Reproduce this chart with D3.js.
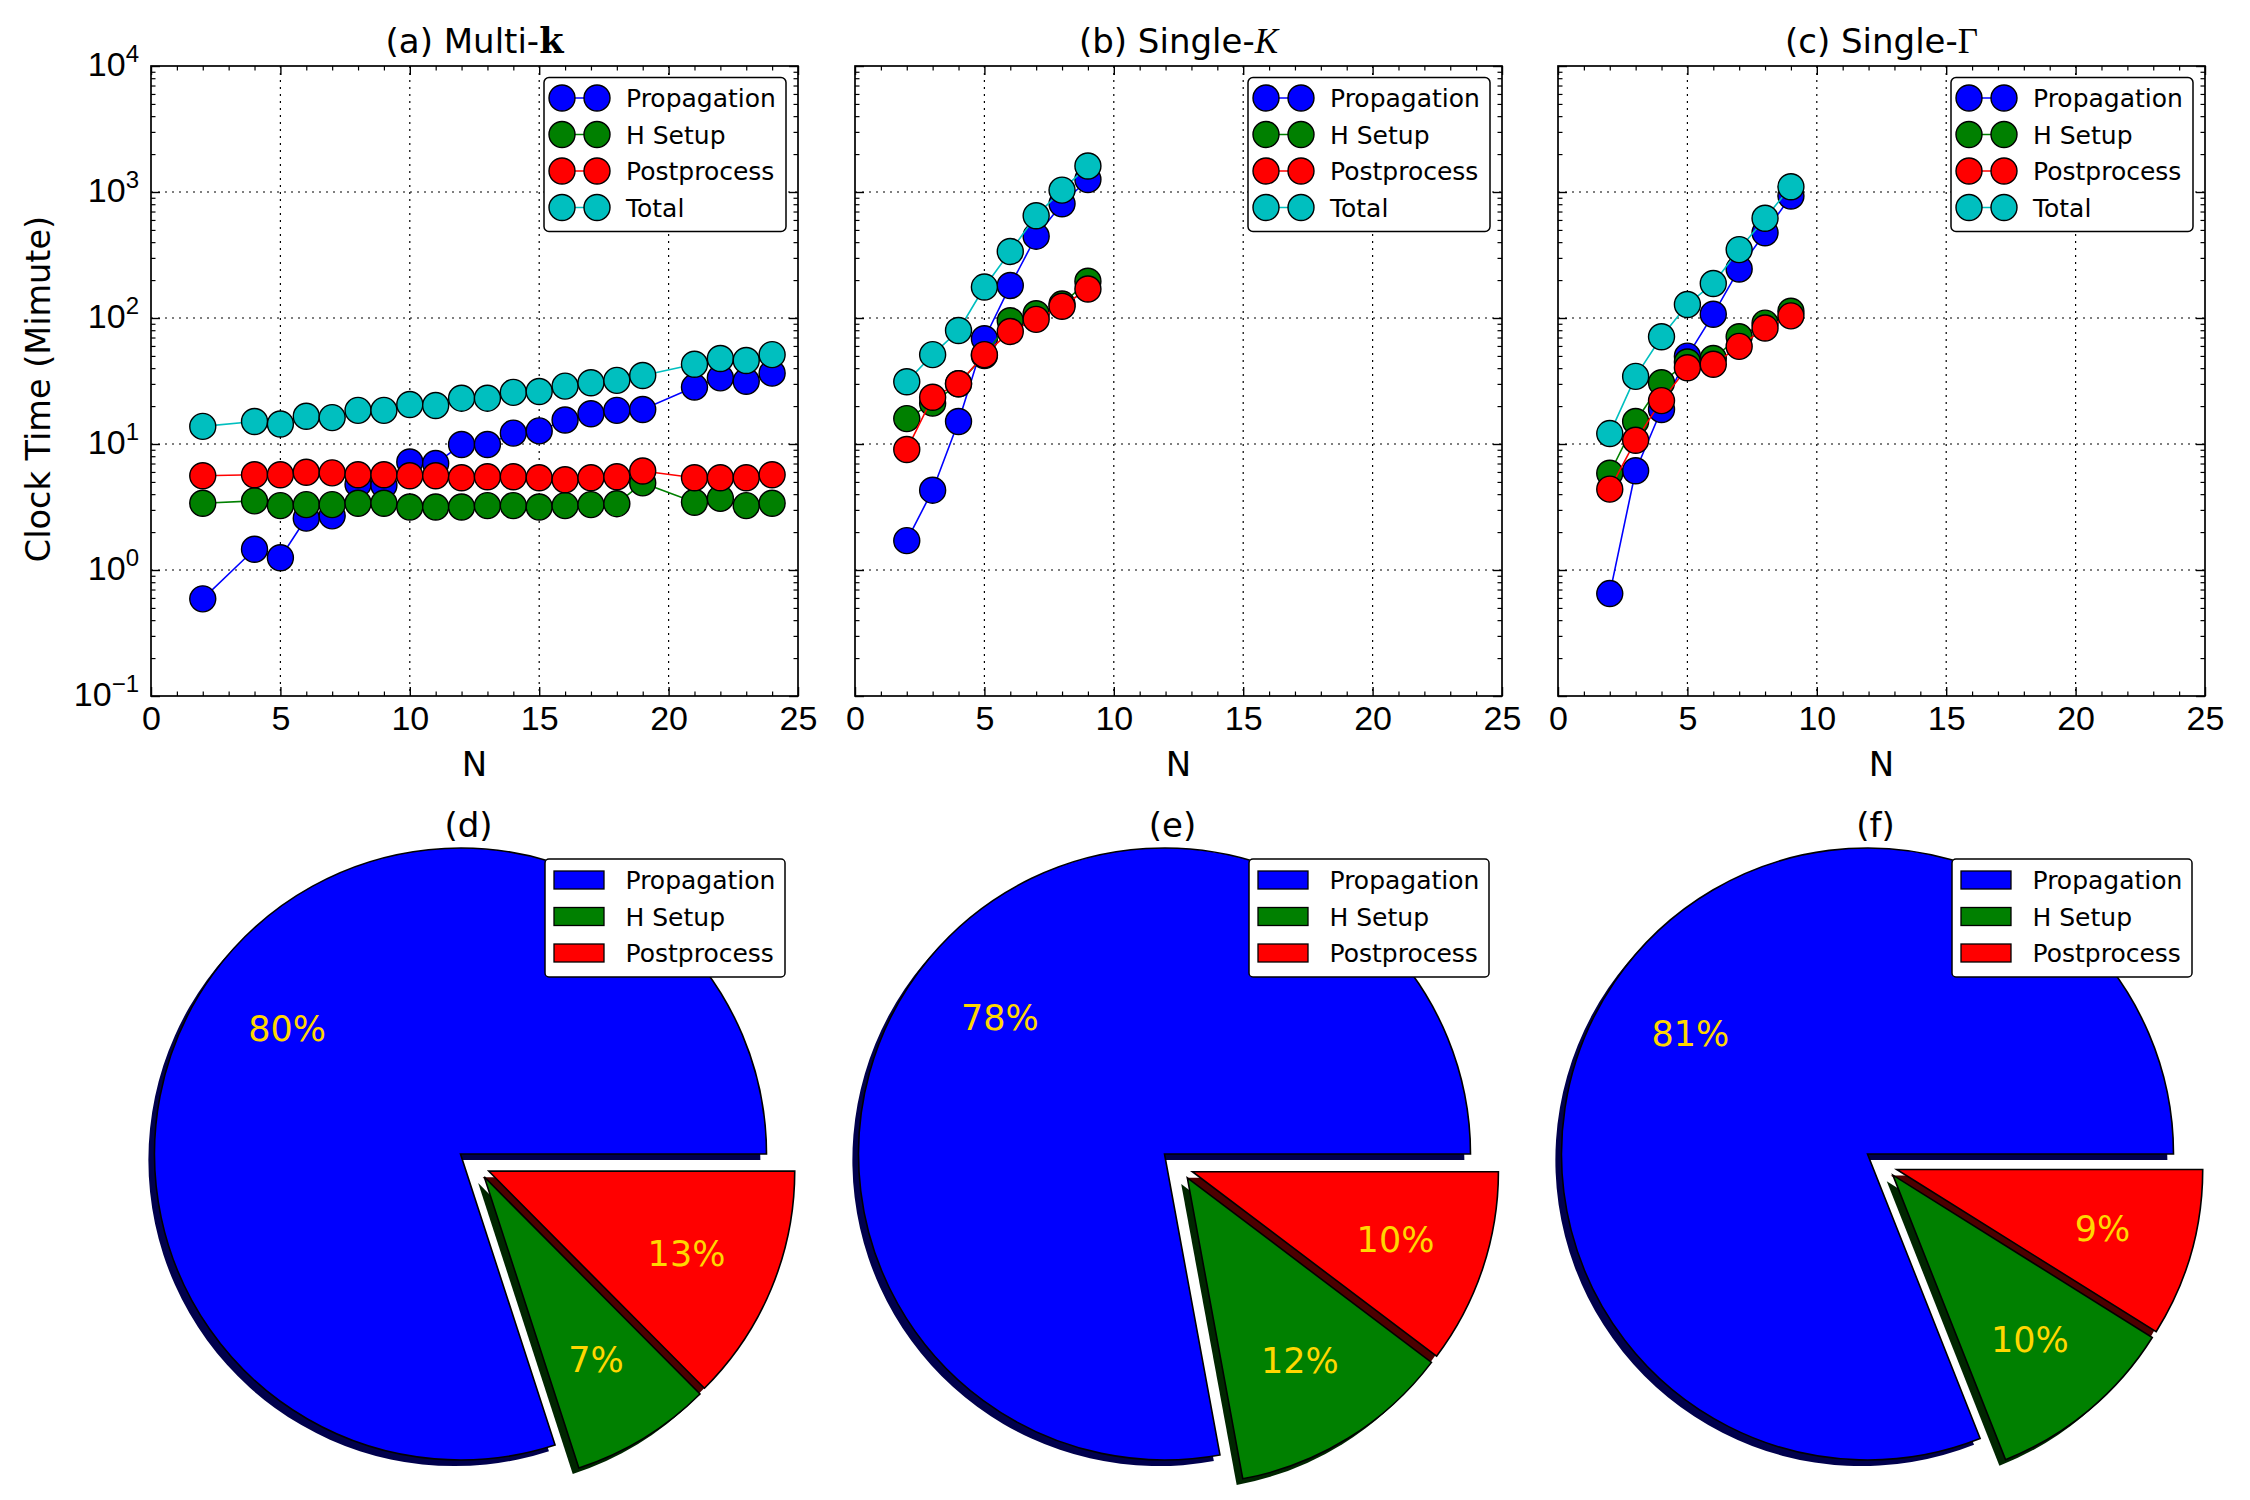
<!DOCTYPE html>
<html>
<head>
<meta charset="utf-8">
<script src="https://cdn.jsdelivr.net/npm/d3@7"></script>
<style>
  body { margin: 0; background: #fff; }
  svg { display: block; font-family: "DejaVu Sans", sans-serif; }
</style>
</head>
<body>
<svg id="chart" width="2250" height="1500"></svg>
<script>
// data
const seriesNames = ["Propagation", "H Setup", "Postprocess", "Total"];
const pieNames = ["Propagation", "H Setup", "Postprocess"];

const nMulti = [2, 4, 5, 6, 7, 8, 9, 10, 11, 12, 13, 14, 15, 16, 17, 18, 19, 21, 22, 23, 24];
const propMulti = [0.59, 1.46, 1.25, 2.58, 2.69, 4.8, 4.7, 7.2, 7.0, 9.9, 9.9, 12.2, 12.7, 15.5, 17.4, 18.5, 18.8, 28.3, 33.5, 31.5, 36.5];
const hsetMulti = [3.39, 3.54, 3.24, 3.3, 3.3, 3.39, 3.39, 3.16, 3.16, 3.16, 3.24, 3.24, 3.16, 3.24, 3.3, 3.36, 4.91, 3.45, 3.7, 3.24, 3.39];
const postMulti = [5.6, 5.7, 5.7, 5.97, 5.9, 5.7, 5.7, 5.6, 5.6, 5.4, 5.5, 5.5, 5.4, 5.2, 5.4, 5.5, 6.1, 5.4, 5.4, 5.4, 5.7];
const totalMulti = [13.8, 15.1, 14.4, 16.6, 16.2, 18.5, 18.5, 20.6, 20.2, 23.1, 23.1, 25.7, 26.1, 28.8, 30.6, 32.0, 35.0, 42.9, 47.7, 46.0, 51.2];

const nSingle = [2, 3, 4, 5, 6, 7, 8, 9];
const propSingleK = [1.71, 4.3, 15.1, 68.5, 181, 446, 807, 1257];
const hsetSingleK = [15.9, 21.1, 30.1, 50.3, 95, 108, 129, 196];
const postSingleK = [9.04, 23.5, 30.1, 51.2, 78.2, 97.6, 124, 170];
const totalSingleK = [31.2, 51.2, 79.6, 176, 337, 648, 1035, 1610];

const propSingleG = [0.65, 6.13, 18.8, 49.8, 107, 245, 475, 930];
const hsetSingleG = [5.86, 15.1, 30.6, 44.8, 47.7, 71, 91, 113];
const postSingleG = [4.38, 10.7, 22.1, 40.3, 42.9, 59.5, 83.2, 104];
const totalSingleG = [12.1, 34.4, 71, 128, 188, 349, 619, 1100];

// percent shares for the pies
const pieMulti = [80.0, 7.45, 12.55];
const pieSingleK = [77.9, 11.8, 10.3];
const pieSingleG = [81.0, 10.1, 8.9];

const xTicks = [0, 5, 10, 15, 20, 25];
const yTicks = [0.1, 1, 10, 100, 1000, 10000];

const colors = ["#0000ff", "#008000", "#ff0000", "#00bfbf"];
const shadowColors = ["#00004d", "#002600", "#4d0000"];

const svg = d3.select("#chart");
const W = 647, TOP = 66, BOTTOM = 696;
const panelLefts = [151, 855, 1558];

const linePanels = [
  { title: "(a) Multi-", sym: "k", family: "DejaVu Serif", weight: "bold", fstyle: "normal",
    n: nMulti, series: [propMulti, hsetMulti, postMulti, totalMulti], yLabels: true },
  { title: "(b) Single-", sym: "K", family: "Liberation Serif", weight: "normal", fstyle: "italic",
    n: nSingle, series: [propSingleK, hsetSingleK, postSingleK, totalSingleK], yLabels: false },
  { title: "(c) Single-", sym: "Γ", family: "Liberation Serif", weight: "normal", fstyle: "normal",
    n: nSingle, series: [propSingleG, hsetSingleG, postSingleG, totalSingleG], yLabels: false },
];
const piePanels = [
  { title: "(d)", values: pieMulti },
  { title: "(e)", values: pieSingleK },
  { title: "(f)", values: pieSingleG },
];

function styleTicks(sel, w) {
  sel.select(".domain").remove();
  sel.selectAll(".tick line").attr("stroke", "#000").attr("stroke-width", w);
}

// 01 line panels
linePanels.forEach(function (p, pi) {
  const left = panelLefts[pi];
  const x = d3.scaleLinear().domain([0, 25]).range([left, left + W]);
  const y = d3.scaleLog().domain([0.1, 1e4]).range([BOTTOM, TOP]);
  const g = svg.append("g");

  // dotted grid
  g.append("g").selectAll("line").data(xTicks.slice(1, -1)).join("line")
    .attr("x1", d => x(d)).attr("x2", d => x(d)).attr("y1", TOP).attr("y2", BOTTOM)
    .attr("stroke", "#000").attr("stroke-width", 1.2).attr("stroke-dasharray", "2,5");
  g.append("g").selectAll("line").data(yTicks.slice(1, -1)).join("line")
    .attr("y1", d => y(d)).attr("y2", d => y(d)).attr("x1", left).attr("x2", left + W)
    .attr("stroke", "#000").attr("stroke-width", 1.2).attr("stroke-dasharray", "2,5");

  const xMinor = x.ticks(25).filter(d => d % 5 !== 0);
  const yMinor = y.ticks().filter(d => Math.abs(Math.log10(d) - Math.round(Math.log10(d))) > 1e-6);

  // bottom / top axes, ticks pointing inward
  const xb = g.append("g").attr("transform", `translate(0,${BOTTOM})`)
    .call(d3.axisBottom(x).tickValues(xTicks).tickSize(-9).tickPadding(10).tickFormat(d3.format("d")));
  styleTicks(xb, 1.4);
  xb.selectAll("text").style("font-size", "34px").attr("fill", "#000");
  styleTicks(g.append("g").attr("transform", `translate(0,${BOTTOM})`)
    .call(d3.axisBottom(x).tickValues(xMinor).tickSize(-4.5).tickFormat("")), 1.2);
  styleTicks(g.append("g").attr("transform", `translate(0,${TOP})`)
    .call(d3.axisTop(x).tickValues(xTicks).tickSize(-9).tickFormat("")), 1.4);
  styleTicks(g.append("g").attr("transform", `translate(0,${TOP})`)
    .call(d3.axisTop(x).tickValues(xMinor).tickSize(-4.5).tickFormat("")), 1.2);

  // left / right log axes
  const yl = g.append("g").attr("transform", `translate(${left},0)`)
    .call(d3.axisLeft(y).tickValues(yTicks).tickSize(-9).tickFormat(p.yLabels ? () => "10" : ""));
  styleTicks(yl, 1.4);
  if (p.yLabels) {
    yl.selectAll(".tick text")
      .attr("x", -12).attr("dy", null).attr("y", 9.5)
      .style("font-size", "34px").attr("fill", "#000")
      .append("tspan")
      .attr("dy", -14.5)
      .style("font-size", "24px")
      .text(d => String(Math.round(Math.log10(d))).replace("-", "\u2212"));
  }
  styleTicks(g.append("g").attr("transform", `translate(${left},0)`)
    .call(d3.axisLeft(y).tickValues(yMinor).tickSize(-4.5).tickFormat("")), 1.2);
  styleTicks(g.append("g").attr("transform", `translate(${left + W},0)`)
    .call(d3.axisRight(y).tickValues(yTicks).tickSize(-9).tickFormat("")), 1.4);
  styleTicks(g.append("g").attr("transform", `translate(${left + W},0)`)
    .call(d3.axisRight(y).tickValues(yMinor).tickSize(-4.5).tickFormat("")), 1.2);

  // frame
  g.append("rect").attr("x", left).attr("y", TOP).attr("width", W).attr("height", BOTTOM - TOP)
    .attr("fill", "none").attr("stroke", "#000").attr("stroke-width", 1.7);

  // series: line then its markers, later series on top
  const line = d3.line().x(d => x(d[0])).y(d => y(d[1]));
  p.series.forEach(function (vals, si) {
    const pts = p.n.map((n, i) => [n, vals[i]]);
    const sg = g.append("g");
    sg.append("path").attr("d", line(pts)).attr("fill", "none")
      .attr("stroke", colors[si]).attr("stroke-width", 1.6);
    sg.selectAll("circle").data(pts).join("circle")
      .attr("cx", d => x(d[0])).attr("cy", d => y(d[1])).attr("r", 13)
      .attr("fill", colors[si]).attr("stroke", "#000").attr("stroke-width", 1.4);
  });

  // legend
  const lx = left + W - 254, ly = 77.5;
  const lg = g.append("g").attr("transform", `translate(${lx},${ly})`);
  lg.append("rect").attr("width", 242).attr("height", 154).attr("rx", 5)
    .attr("fill", "#fff").attr("stroke", "#000").attr("stroke-width", 1.5);
  seriesNames.forEach(function (name, si) {
    const ry = 20.5 + si * 36.5;
    lg.append("line").attr("x1", 18).attr("x2", 53).attr("y1", ry).attr("y2", ry)
      .attr("stroke", colors[si]).attr("stroke-width", 1.6);
    [18, 53].forEach(cx => lg.append("circle").attr("cx", cx).attr("cy", ry).attr("r", 13)
      .attr("fill", colors[si]).attr("stroke", "#000").attr("stroke-width", 1.4));
    lg.append("text").attr("x", 82).attr("y", ry + 9).style("font-size", "25px").text(name);
  });

  // title and axis labels
  const t = svg.append("text").attr("x", left + W / 2).attr("y", 53)
    .attr("text-anchor", "middle").style("font-size", "34px");
  t.append("tspan").text(p.title);
  t.append("tspan").style("font-family", p.family).style("font-weight", p.weight)
    .style("font-style", p.fstyle).style("font-size", "35px").text(p.sym);
  svg.append("text").attr("x", left + W / 2).attr("y", 776).attr("text-anchor", "middle")
    .style("font-size", "34px").text("N");
  if (p.yLabels) {
    svg.append("text").attr("transform", `translate(50,389) rotate(-90)`)
      .attr("text-anchor", "middle").style("font-size", "33.5px").text("Clock Time (Mimute)");
  }
});

// 02 pie panels
const R = 306;
const explode = [0, 0.108, 0.108];
const pull = 0.65; // exploded wedges lean toward the middle of the exploded group
const pie = d3.pie().sort(null).startAngle(Math.PI / 2).endAngle(Math.PI / 2 - 2 * Math.PI);
const arc = d3.arc().innerRadius(0).outerRadius(R);
const labelArc = d3.arc().innerRadius(0.7 * R).outerRadius(0.7 * R);
const pct = d3.format(".0f");

piePanels.forEach(function (p, pi) {
  const axLeft = panelLefts[pi];
  const cx = axLeft + W / 2 - 14, cy = 1154;
  const arcs = pie(p.values);
  const groupMid = (arcs[1].startAngle + arcs[2].endAngle) / 2;
  const off = arcs.map(function (a, i) {
    const mid = (a.startAngle + a.endAngle) / 2;
    const dir = mid + pull * (groupMid - mid);
    return [Math.sin(dir) * explode[i] * R, -Math.cos(dir) * explode[i] * R];
  });
  const g = svg.append("g");

  // shadows below all wedges
  g.selectAll("path.shadow").data(arcs).join("path").attr("class", "shadow")
    .attr("transform", (d, i) => `translate(${cx + off[i][0] - 0.02 * R},${cy + off[i][1] + 0.02 * R})`)
    .attr("d", arc).attr("fill", (d, i) => shadowColors[i]).attr("stroke", "none");
  g.selectAll("path.wedge").data(arcs).join("path").attr("class", "wedge")
    .attr("transform", (d, i) => `translate(${cx + off[i][0]},${cy + off[i][1]})`)
    .attr("d", arc).attr("fill", (d, i) => colors[i])
    .attr("stroke", "#000").attr("stroke-width", 1.6).attr("stroke-linejoin", "miter");
  g.selectAll("text.pct").data(arcs).join("text").attr("class", "pct")
    .attr("transform", function (d, i) {
      const c = labelArc.centroid(d);
      return `translate(${cx + off[i][0] + c[0]},${cy + off[i][1] + c[1]})`;
    })
    .attr("text-anchor", "middle").attr("dy", "0.36em")
    .style("font-size", "35px").attr("fill", "#ffd700")
    .text(d => pct(d.value) + "%");

  svg.append("text").attr("x", axLeft + W / 2 - 6).attr("y", 837).attr("text-anchor", "middle")
    .style("font-size", "34px").text(p.title);

  // legend
  const lx = axLeft + W - 253, ly = 859;
  const lg = svg.append("g").attr("transform", `translate(${lx},${ly})`);
  lg.append("rect").attr("width", 240).attr("height", 118).attr("rx", 4)
    .attr("fill", "#fff").attr("stroke", "#000").attr("stroke-width", 1.5);
  pieNames.forEach(function (name, i) {
    const ry = 21 + i * 36.5;
    lg.append("rect").attr("x", 9).attr("y", ry - 9).attr("width", 50).attr("height", 18)
      .attr("fill", colors[i]).attr("stroke", "#000").attr("stroke-width", 1.3);
    lg.append("text").attr("x", 80.5).attr("y", ry + 9).style("font-size", "25px").text(name);
  });
});
</script>
</body>
</html>
